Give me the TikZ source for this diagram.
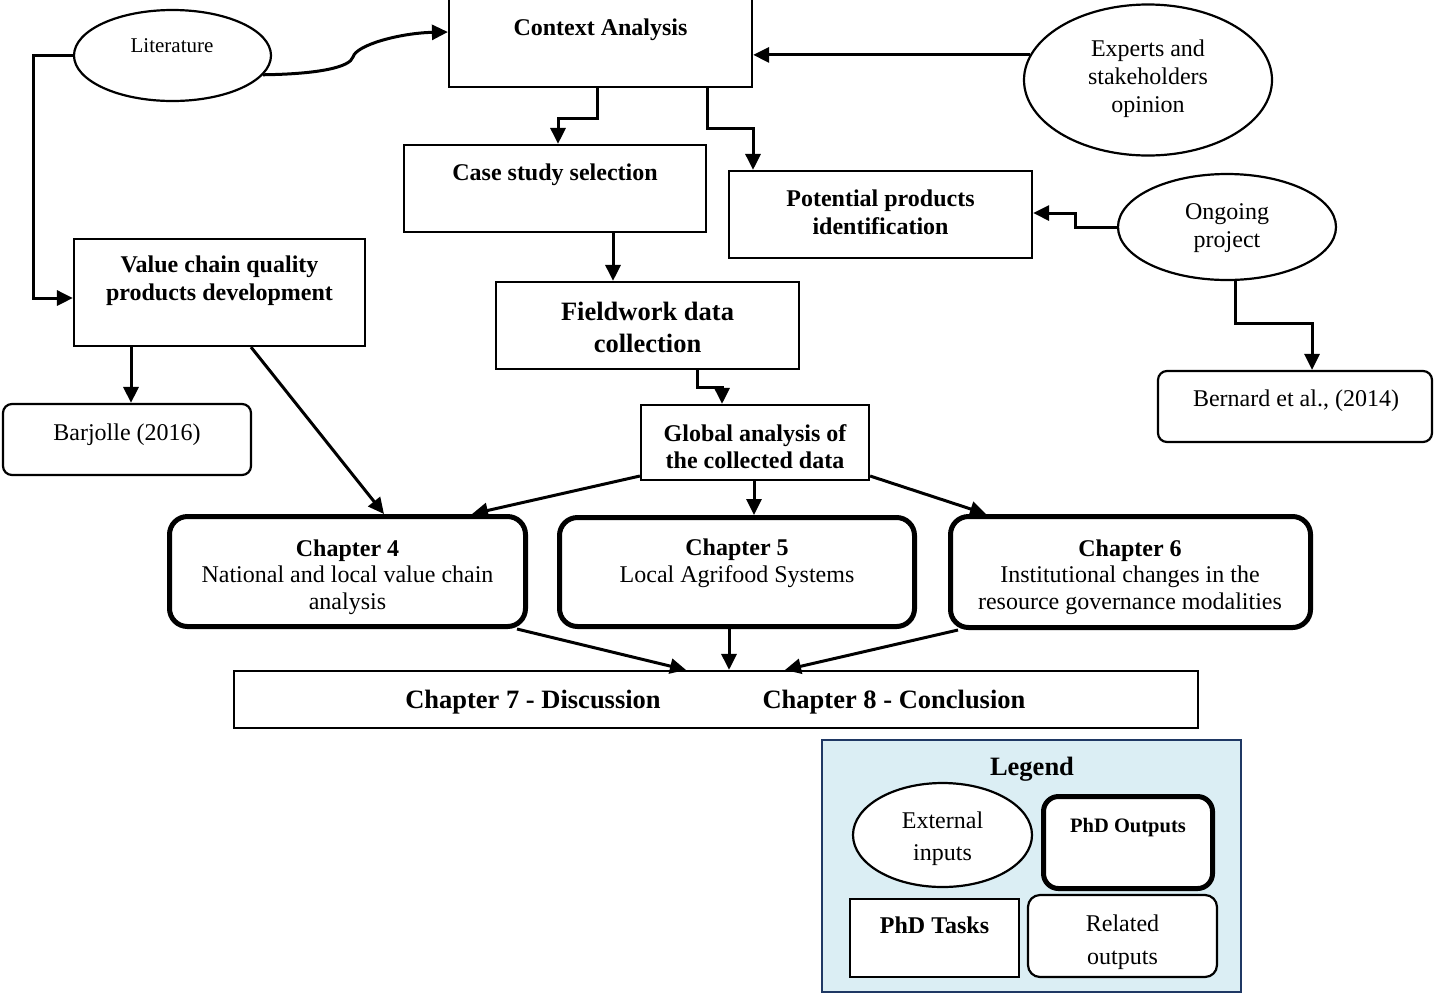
\documentclass[tikz,border=0pt]{standalone}
\usepackage{fontspec}
\setmainfont{Liberation Serif}
\usetikzlibrary{arrows.meta,shapes.geometric}
\definecolor{legfill}{RGB}{219,238,244}
\definecolor{legdraw}{RGB}{31,56,100}
\tikzset{
 taskbox/.style={draw, line width=2.2pt, rectangle, inner sep=0, fill=white},
 outbox/.style={draw, line width=2.2pt, rounded corners=9pt, inner sep=0, fill=white},
 chapbox/.style={draw, line width=5pt, rounded corners=18pt, inner sep=0, fill=white},
 extell/.style={draw, line width=2.2pt, ellipse, inner sep=0, fill=white},
 txt/.style={inner sep=0, align=center, font=\fontsize{24}{28}\selectfont, yshift=-2.5pt},
 btxt/.style={inner sep=0, align=center, font=\fontsize{24}{28}\selectfont\bfseries, yshift=-2.5pt},
 conn/.style={line width=3pt, -{Triangle[length=16pt,width=15pt]}},
}
\begin{document}
\begin{tikzpicture}[x=1pt,y=-1pt]
\useasboundingbox (0,0) rectangle (1434,994);
% legend background
\node[draw=legdraw, fill=legfill, line width=2pt, rectangle, inner sep=0, minimum width=419pt, minimum height=252pt] (leg) at (1031.5,866) {};
% tasks
\node[taskbox, minimum width=303pt, minimum height=92pt] (ctx) at (600.5,41) {};
\node[taskbox, minimum width=302pt, minimum height=87pt] (case) at (555,188.5) {};
\node[taskbox, minimum width=303pt, minimum height=87pt] (pot) at (880.5,214.5) {};
\node[taskbox, minimum width=291pt, minimum height=107pt] (vcq) at (219.5,292.5) {};
\node[taskbox, minimum width=303pt, minimum height=87pt] (field) at (647.5,325.5) {};
\node[taskbox, minimum width=228pt, minimum height=75pt] (glob) at (755,442.5) {};
\node[taskbox, minimum width=964pt, minimum height=57pt] (ch78) at (716,699.5) {};
% related outputs
\node[outbox, minimum width=248pt, minimum height=71pt] (barj) at (127,439.5) {};
\node[outbox, minimum width=274pt, minimum height=71pt] (bern) at (1295,406.5) {};
% chapters
\node[chapbox, minimum width=356pt, minimum height=110pt] (ch4) at (347.5,571.5) {};
\node[chapbox, minimum width=355pt, minimum height=109pt] (ch5) at (737,572) {};
\node[chapbox, minimum width=360pt, minimum height=111pt] (ch6) at (1130.5,572) {};
% external inputs
\node[extell, minimum width=197pt, minimum height=91pt] (lit) at (172.5,55.5) {};
\node[extell, minimum width=248pt, minimum height=151pt] (exp) at (1148,80) {};
\node[extell, minimum width=218pt, minimum height=106pt] (ong) at (1227,227) {};
% legend items
\node[extell, minimum width=179pt, minimum height=104pt] (lext) at (942.5,835) {};
\node[chapbox, rounded corners=15pt, minimum width=169pt, minimum height=92pt] (lout) at (1128,842.5) {};
\node[taskbox, minimum width=169pt, minimum height=78pt] (ltask) at (934.5,938) {};
\node[outbox, rounded corners=12pt, minimum width=189pt, minimum height=82pt] (lrel) at (1122.5,936) {};

% texts
\node[btxt] (ctx-t) at (600.5,27) {Context Analysis};
\node[txt, font=\fontsize{21}{25}\selectfont] (lit-t) at (172,43) {Literature};
\node[txt] (exp-t) at (1148,76.5) {Experts and\\stakeholders\\opinion};
\node[btxt] (case-t) at (555,172) {Case study selection};
\node[btxt] (pot-t) at (880.5,210) {Potential products\\identification};
\node[txt] (ong-t) at (1227,226) {Ongoing\\project};
\node[btxt] (vcq-t) at (219.5,278) {Value chain quality\\products development};
\node[btxt, font=\fontsize{26.5}{32}\selectfont\bfseries] (field-t) at (647.5,325) {Fieldwork data\\collection};
\node[txt] (bern-t) at (1296,398) {Bernard et al., (2014)};
\node[txt] (barj-t) at (127,432) {Barjolle (2016)};
\node[btxt, font=\fontsize{24}{27}\selectfont\bfseries] (glob-t) at (755,444.5) {Global analysis of\\the collected data};
\node[txt, font=\fontsize{24}{26.5}\selectfont] (ch4-t) at (347.5,574.5) {\textbf{Chapter 4}\\National and local value chain\\analysis};
\node[txt, font=\fontsize{24}{26.5}\selectfont] (ch5-t) at (737,561) {\textbf{Chapter 5}\\Local Agrifood Systems};
\node[txt, font=\fontsize{24}{26.5}\selectfont] (ch6-t) at (1130,574.5) {\textbf{Chapter 6}\\Institutional changes in the\\resource governance modalities};
\node[btxt, font=\fontsize{26.5}{30}\selectfont\bfseries] (ch7-t) at (533,700) {Chapter 7 - Discussion};
\node[btxt, font=\fontsize{26.5}{30}\selectfont\bfseries] (ch8-t) at (894,700) {Chapter 8 - Conclusion};
\node[btxt, font=\fontsize{26.5}{30}\selectfont\bfseries] (leg-t) at (1032,767) {Legend};
\node[txt, font=\fontsize{24}{32}\selectfont] (lext-t) at (942.5,836) {External\\inputs};
\node[btxt, font=\fontsize{20.5}{24}\selectfont\bfseries] (lout-t) at (1128,825) {PhD Outputs};
\node[btxt] (ltask-t) at (934.5,923) {PhD Tasks};
\node[txt, font=\fontsize{24}{33}\selectfont] (lrel-t) at (1122.5,939.5) {Related\\outputs};

% connectors
\draw[conn] (lit.-12.8) .. controls (320,74) and (350,67) .. (353,57) .. controls (356,45) and (400,33) .. (ctx.west |- 0,32);
\draw[conn] (lit.west) -- (33,0 |- lit.west) |- (vcq.west |- 0,298);
\draw[conn] (exp.168.6) -- (ctx.east |- exp.168.6);
\draw[conn] (597,0 |- ctx.south) |- (558,118) -- (558,0 |- case.north);
\draw[conn] (707,0 |- ctx.south) |- (753,128) -- (753,0 |- pot.north);
\draw[conn] (ong.west) -| (1075,213) -- (pot.east |- 0,213);
\draw[conn] (1235,0 |- ong.south) |- (1312,323) -- (1312,0 |- bern.north);
\draw[conn] (613,0 |- case.south) -- (613,0 |- field.north);
\draw[conn] (697,0 |- field.south) |- (722,387) -- (722,0 |- glob.north);
\draw[conn] (131,0 |- vcq.south) -- (131,0 |- barj.north);
\draw[conn] (251,0 |- vcq.south) -- (384,0 |- ch4.north);
\draw[conn] (glob.west |- 0,476) -- (472,0 |- ch4.north);
\draw[conn] (754,0 |- glob.south) -- (754,0 |- ch5.north);
\draw[conn] (glob.east |- 0,476) -- (986,0 |- ch6.north);
\draw[conn] (517,0 |- ch4.south) -- (686,0 |- ch78.north);
\draw[conn] (729,0 |- ch5.south) -- (729,0 |- ch78.north);
\draw[conn] (958,0 |- ch6.south) -- (785,0 |- ch78.north);
\end{tikzpicture}
\end{document}
